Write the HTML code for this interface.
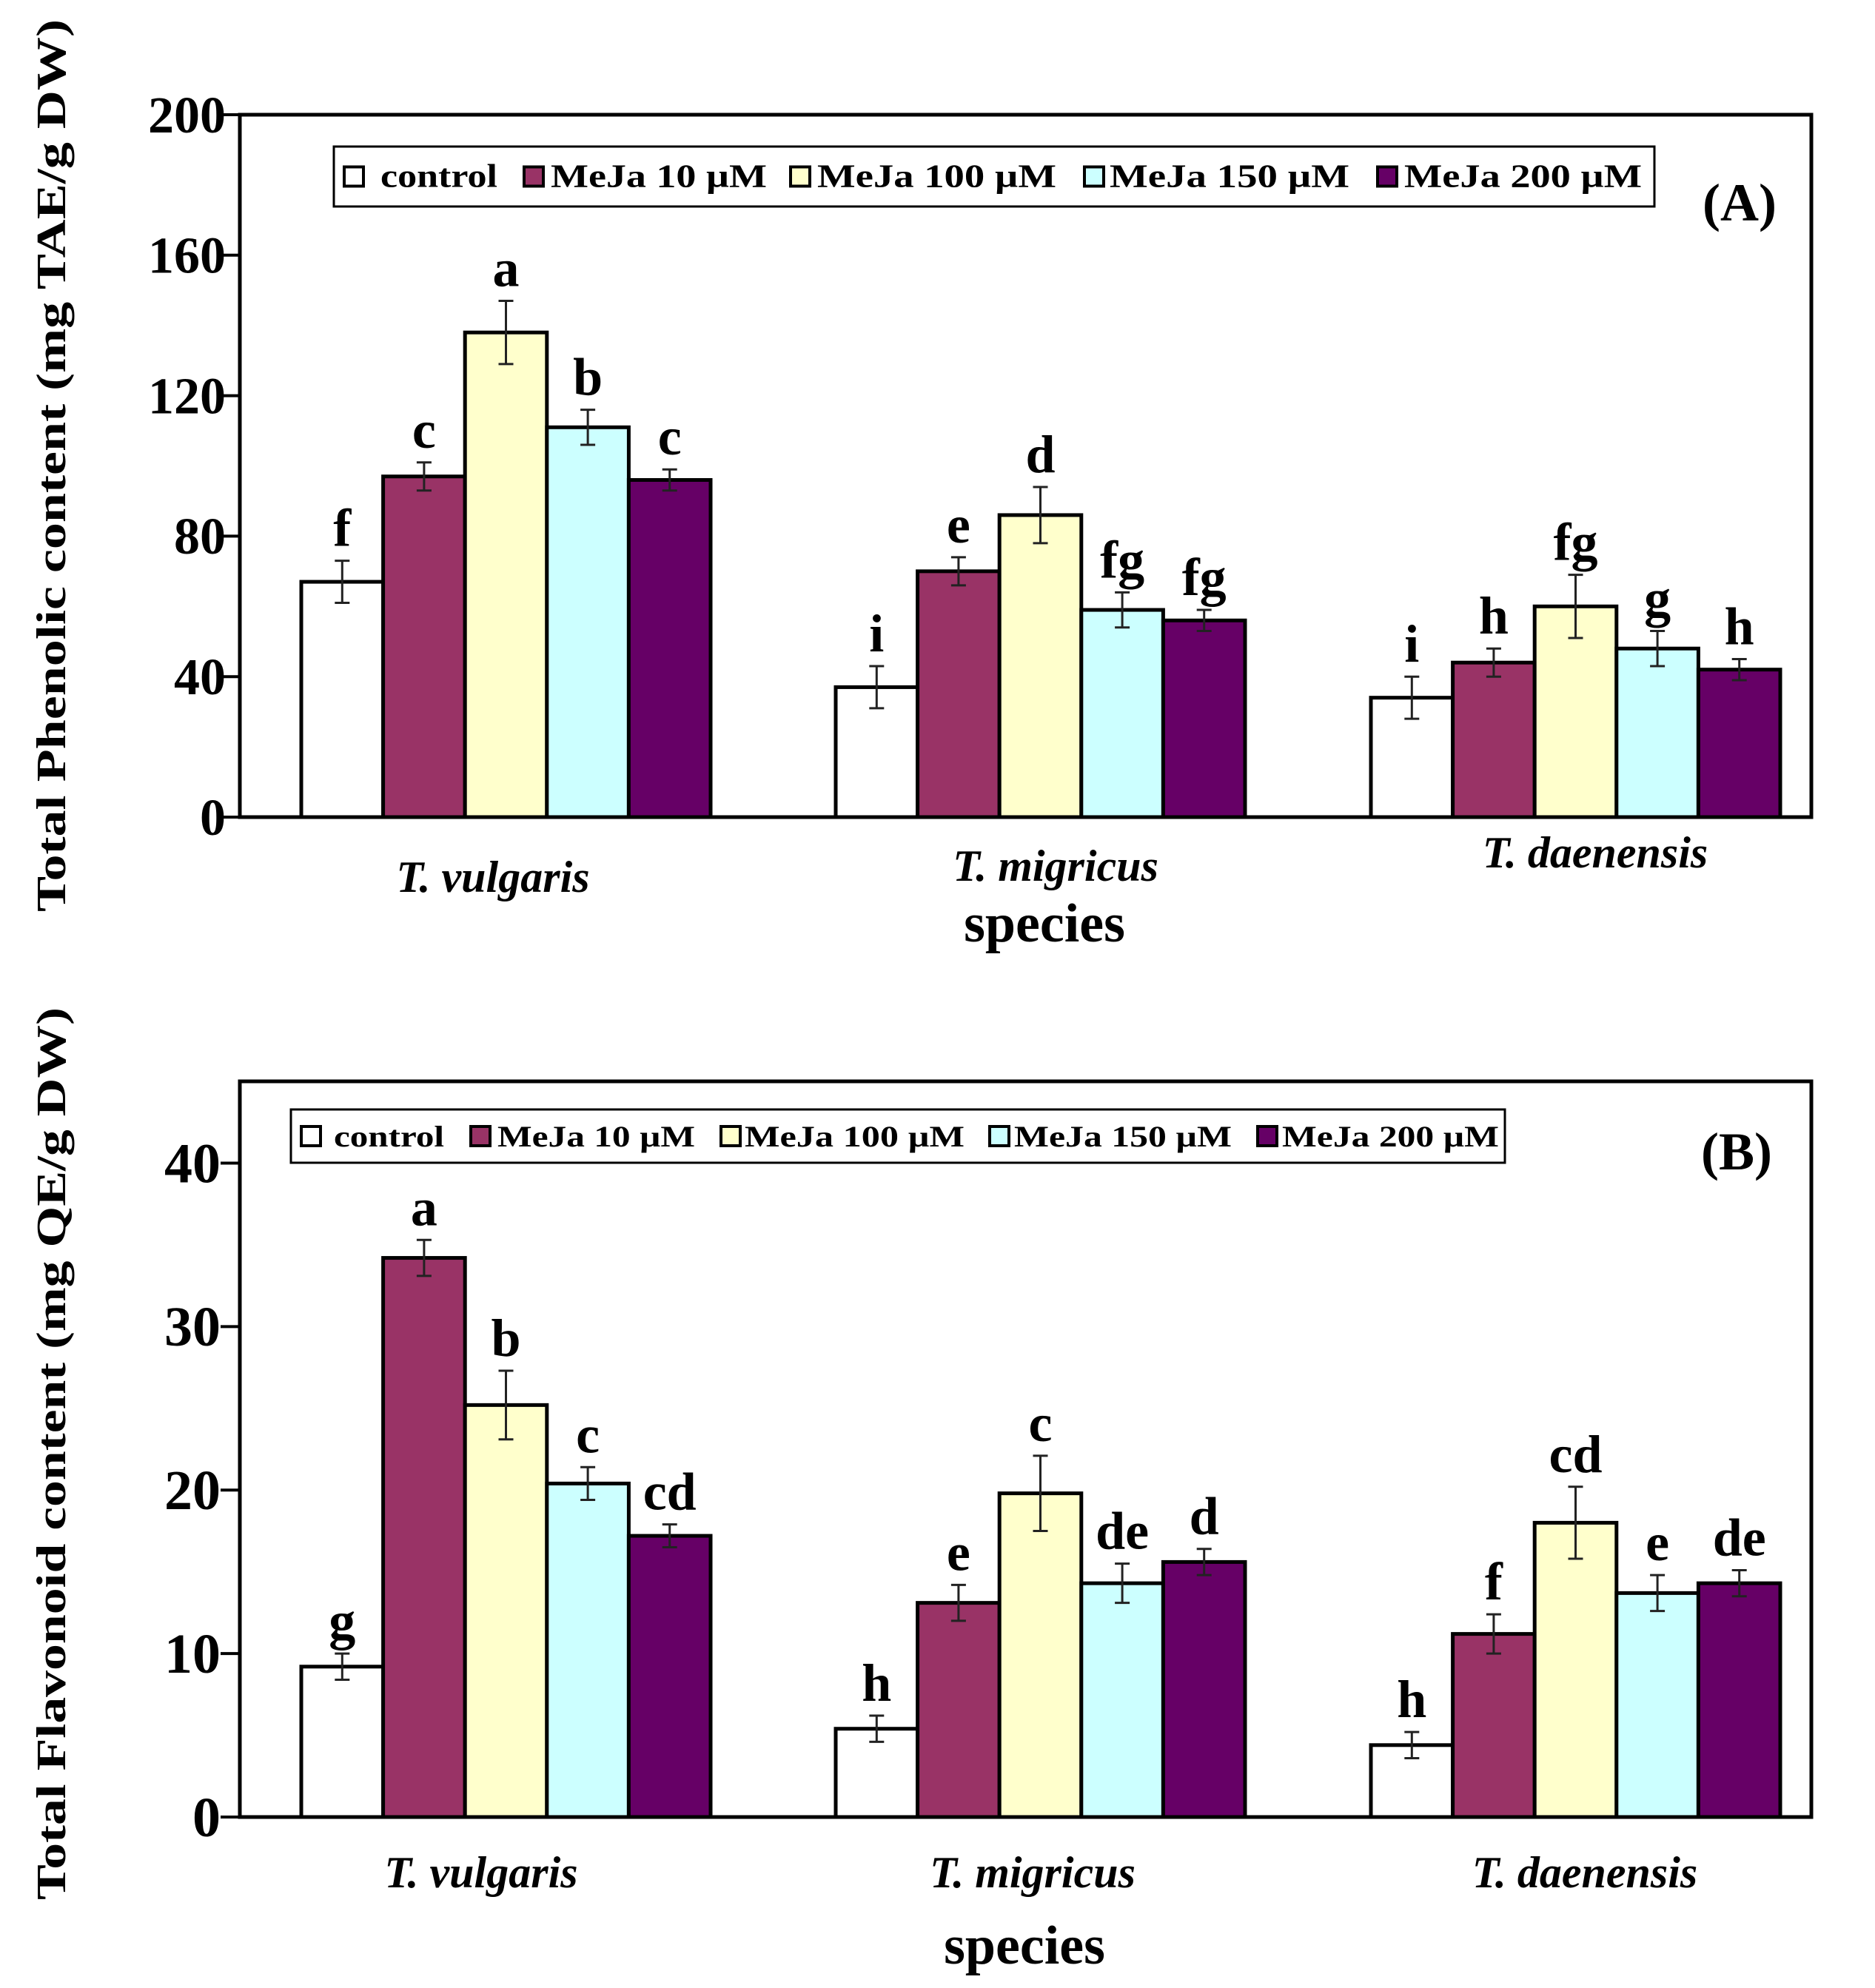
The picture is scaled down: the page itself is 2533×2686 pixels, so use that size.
<!DOCTYPE html>
<html><head><meta charset="utf-8"><style>
html,body{margin:0;padding:0;background:#fff;}
svg{display:block;font-family:"Liberation Serif",serif;}
</style></head><body>
<svg id="fig" width="2533" height="2686" viewBox="0 0 2533 2686" xmlns="http://www.w3.org/2000/svg"></svg>
<script>
const species = ["T. vulgaris","T. migricus","T. daenensis"];
const seriesNames = ["control","MeJa 10 µM","MeJa 100 µM","MeJa 150 µM","MeJa 200 µM"];
const seriesColors = ["#ffffff","#993366","#ffffcc","#ccffff","#660066"];
const phenolicControl = [67,37,34];
const phenolic10 = [97,70,44];
const phenolic100 = [138,86,60];
const phenolic150 = [111,59,48];
const phenolic200 = [96,56,42];
const phenolicErr = [[6,4,9,5,3],[6,4,8,5,3],[6,4,9,5,3]];
const phenolicLetters = [["f","c","a","b","c"],["i","e","d","fg","fg"],["i","h","fg","g","h"]];
const phenolicTicks = [0,40,80,120,160,200];
const flavControl = [9.2,5.4,4.4];
const flav10 = [34.2,13.1,11.2];
const flav100 = [25.2,19.8,18.0];
const flav150 = [20.4,14.3,13.7];
const flav200 = [17.2,15.6,14.3];
const flavErr = [[0.8,1.1,2.1,1.0,0.7],[0.8,1.1,2.3,1.2,0.8],[0.8,1.2,2.2,1.1,0.8]];
const flavLetters = [["g","a","b","c","cd"],["h","e","c","de","d"],["h","f","cd","e","de"]];
const flavTicks = [0,10,20,30,40];

const NS="http://www.w3.org/2000/svg";
const svg=document.getElementById('fig');
function mk(tag,attrs,parent,text){
  const e=document.createElementNS(NS,tag);
  for(const k in attrs) e.setAttribute(k,attrs[k]);
  if(text!==undefined) e.textContent=text;
  (parent||svg).appendChild(e); return e;
}

function drawChart(cfg){
  const g=mk('g',{});
  
  
  const L=324,R=2447,T=cfg.top,B=cfg.bottom;
  const y=v=>B-(v/cfg.max)*(B-T);
  const groupStarts=[407,1129,1852];
  const bw=110.6;
  const x=(gi,si)=>groupStarts[gi]+si*bw;
  const fr=mk('rect',{x:L,y:T,width:R-L,height:B-T,fill:'none',stroke:'#000','stroke-width':5},g);
  
  
  cfg.ticks.forEach(t=>{
    const ty=y(t);
    const tl=mk('line',{x1:298,x2:L,y1:ty,y2:ty,stroke:'#000','stroke-width':4},g);
    
    
    const tx=mk('text',{x:cfg.tickX,y:ty+cfg.tickFont*0.34,'font-size':cfg.tickFont,'font-weight':'bold','text-anchor':'end'},g,String(t));
    
    
  });
  for(let gi=0;gi<3;gi++){
    for(let si=0;si<5;si++){
      const v=cfg.series[si][gi], e=cfg.err[gi][si];
      const bx=x(gi,si);
      const r=mk('rect',{x:bx,y:y(v),width:bw,height:B-y(v),fill:seriesColors[si],stroke:'#000','stroke-width':5},g);
      
      
      const cx=bx+bw/2;
      const eg=mk('g',{stroke:'#222','stroke-width':3},g);
      
      
      mk('line',{x1:cx,x2:cx,y1:y(v-e),y2:y(v+e)},eg);
      mk('line',{x1:cx-10,x2:cx+10,y1:y(v-e),y2:y(v-e)},eg);
      mk('line',{x1:cx-10,x2:cx+10,y1:y(v+e),y2:y(v+e)},eg);
      const lt=mk('text',{x:cx,y:y(v+e)-20,'font-size':72,'font-weight':'bold','text-anchor':'middle'},g,cfg.letters[gi][si]);
      
      
    }
  }
  cfg.cats.forEach((c,i)=>{
    const t=mk('text',{x:c[0],y:c[1],'font-size':60,'font-weight':'bold','font-style':'italic','text-anchor':'middle'},g,species[i]);
    
    
  });
  const xt=mk('text',{x:cfg.species[0],y:cfg.species[1],'font-size':74,'font-weight':'bold','text-anchor':'middle'},g,'species');
  
  
  const yt=mk('text',{x:0,y:0,'font-size':56,'font-weight':'bold','text-anchor':'middle',textLength:1206,lengthAdjust:'spacingAndGlyphs',transform:`translate(88,${cfg.titleY}) rotate(-90)`},g,cfg.title);
  
  
  const pl=mk('text',{x:cfg.panel[0],y:cfg.panel[1],'font-size':72,'font-weight':'bold'},g,cfg.panelText);
  
  
  const lg=mk('g',{},g);
  
  
  const lb=cfg.legend;
  mk('rect',{x:lb.x,y:lb.y,width:lb.w,height:lb.h,fill:'#fff',stroke:'#000','stroke-width':3},lg);
  const cy=lb.y+lb.h/2;
  lb.entries.forEach((en,i)=>{
    const eg=mk('g',{},lg);
    
    
    mk('rect',{x:en[0],y:cy-13,width:26,height:26,fill:seriesColors[i],stroke:'#000','stroke-width':4},eg);
    mk('text',{x:en[1],y:cy+14,'font-size':lb.font,'font-weight':'bold',textLength:en[2]-en[1],lengthAdjust:'spacingAndGlyphs'},eg,seriesNames[i]);
  });
}

drawChart({name:'chart-a-phenolic',top:155,bottom:1104,max:200,ticks:phenolicTicks,tickX:305,tickFont:70,
  series:[phenolicControl,phenolic10,phenolic100,phenolic150,phenolic200],err:phenolicErr,letters:phenolicLetters,
  cats:[[666,1205],[1426,1190],[2155,1172]],species:[1411,1272],
  title:'Total Phenolic content (mg TAE/g DW)',titleY:629,panel:[2300,298],panelText:'(A)',
  legend:{x:451,y:198,w:1784,h:81,font:44,entries:[[465,514,672],[708,744,1036],[1068,1104,1427],[1465,1499,1823],[1861,1897,2218]]}});

drawChart({name:'chart-b-flavonoid',top:1461,bottom:2455,max:45,ticks:flavTicks,tickX:298,tickFont:76,
  series:[flavControl,flav10,flav100,flav150,flav200],err:flavErr,letters:flavLetters,
  cats:[[650,2550],[1395,2550],[2141,2550]],species:[1384,2653],
  title:'Total Flavonoid content (mg QE/g DW)',titleY:1964,panel:[2298,1580],panelText:'(B)',
  legend:{x:393,y:1499,w:1640,h:72,font:40,entries:[[407,451,600],[636,672,939],[974,1006,1303],[1337,1370,1664],[1699,1732,2025]]}});
</script>
</body></html>
